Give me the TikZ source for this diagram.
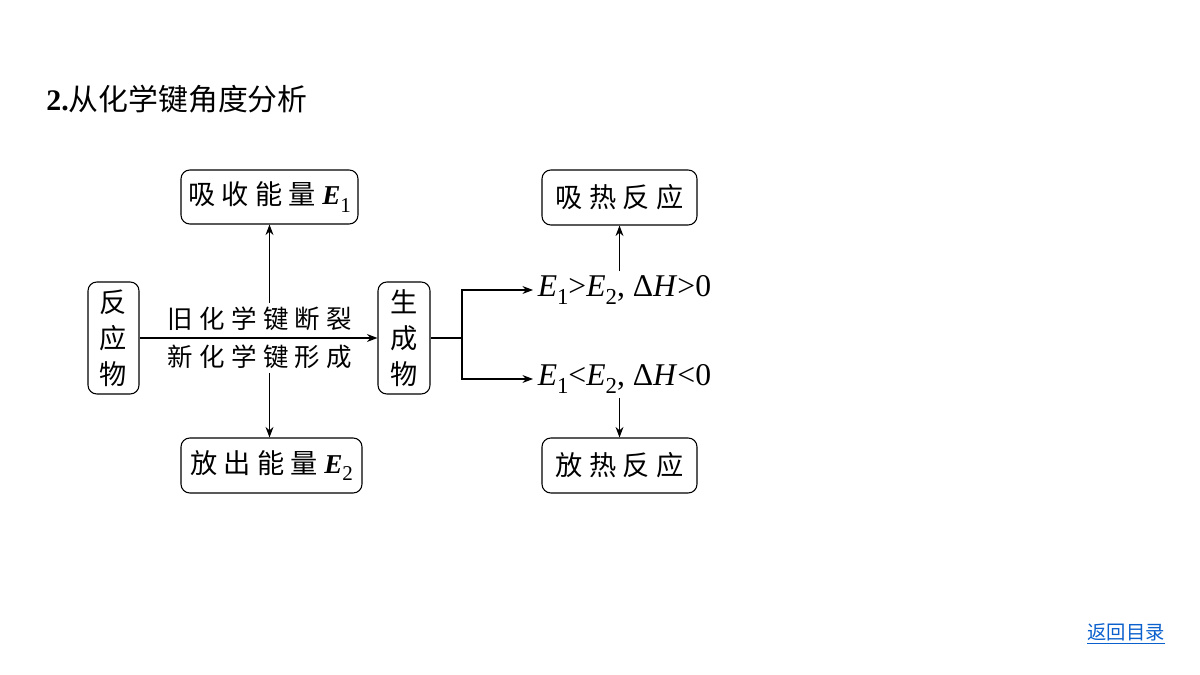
\documentclass[tikz,border=0pt]{standalone}
\usepackage{fontspec}
\setmainfont{Liberation Serif}
\newfontfamily\cjk{Noto Sans CJK SC}
\usetikzlibrary{arrows.meta}
\definecolor{linkblue}{RGB}{10,96,205}
\newcommand\gp{\hspace{3.6pt}}
\newcommand\Eb[1]{{\rmfamily\bfseries\itshape E}\raisebox{-0.5ex}{\rmfamily\fontsize{12}{12}\selectfont #1}}
\newcommand\Ei[1]{{\rmfamily\itshape E}\raisebox{-0.5ex}{\rmfamily\fontsize{13}{13}\selectfont #1}}
\begin{document}
\begin{tikzpicture}[x=0.02cm,y=-0.02cm,
  box/.style={draw, rounded corners=5pt, line width=0.6pt, inner sep=0pt, align=center,
    font=\cjk\fontsize{15.5}{20.5}\selectfont},
  arr/.style={-{Stealth[length=6pt,width=4.5pt]}, line width=0.6pt},
  ln/.style={line width=0.6pt},
  bond/.style={font=\cjk\fontsize{14.5}{16}\selectfont, inner sep=2pt},
  cond/.style={font=\rmfamily\fontsize{18}{20}\selectfont, inner sep=2.5pt}]
\useasboundingbox (0,0) rectangle (1200,675);

\node[anchor=west, inner sep=0pt] (title) at (46,99)
  {\fontsize{17}{20}\selectfont\textbf{2.}{\cjk 从化学键角度分析}};

\node[box, minimum width=3.54cm, minimum height=1.08cm] (absE) at (269.5,197)
  {吸\gp 收\gp 能\gp 量\gp\Eb{1}};
\node[box, minimum width=3.62cm, minimum height=1.1cm] (relE) at (271.5,465.5)
  {放\gp 出\gp 能\gp 量\gp\Eb{2}};
\node[box, minimum width=1.02cm, minimum height=2.24cm] (react) at (113.5,338) {反\\应\\物};
\node[box, minimum width=1.04cm, minimum height=2.24cm] (prod) at (404,338) {生\\成\\物};

\node[bond] (brk) at (260,319) {旧\gp 化\gp 学\gp 键\gp 断\gp 裂};
\node[bond] (form) at (260,357) {新\gp 化\gp 学\gp 键\gp 形\gp 成};

\node[box, minimum width=3.1cm, minimum height=1.1cm] (endo) at (619.5,197.5) {吸\gp 热\gp 反\gp 应};
\node[box, minimum width=3.1cm, minimum height=1.1cm] (exo) at (619.5,465.5) {放\gp 热\gp 反\gp 应};

\node[cond, anchor=west] (gt) at (533,290) {\Ei{1}>\Ei{2}, Δ\textit{H}>0};
\node[cond, anchor=west] (lt) at (533,379) {\Ei{1}<\Ei{2}, Δ\textit{H}<0};

\draw[arr] (react) -- (prod);
\draw[arr] (absE.south |- brk.north) -- (absE.south);
\draw[arr] (absE.south |- form.south) -- (absE.south |- relE.north);

\coordinate (j) at (462,338);
\draw[ln] (prod) -- (j);
\draw[arr] (j) |- (gt.west);
\draw[arr] (j) |- (lt.west);
\draw[arr] (endo.south |- gt.north) -- (endo.south);
\draw[arr] (exo.north |- lt.south) -- (exo.north);

\node[anchor=west, inner sep=0pt, text=linkblue] (back) at (1087,634)
  {\cjk\fontsize{11}{13}\selectfont\underline{返回目录}};
\end{tikzpicture}
\end{document}
